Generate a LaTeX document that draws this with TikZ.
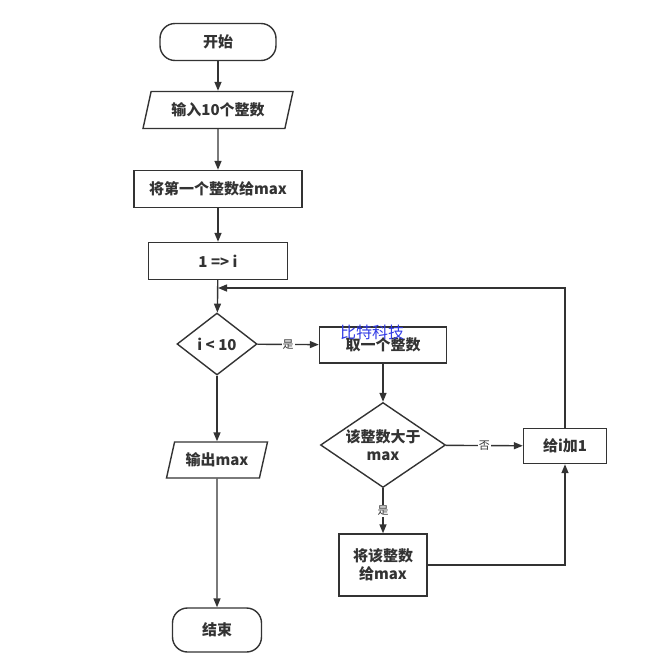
\documentclass[tikz,border=0pt]{standalone}
\usepackage{fontspec}
\setmainfont{Noto Sans CJK SC}
\usetikzlibrary{shapes.geometric,arrows.meta,calc}

\definecolor{linegray}{RGB}{51,51,51}
\definecolor{markblue}{RGB}{50,60,230}

\begin{document}
\begin{tikzpicture}[x=1pt,y=-1pt,
  line width=1.4pt, draw=linegray,
  every node/.style={text=linegray, font=\fontsize{15pt}{18pt}\selectfont\bfseries},
  terminal/.style={draw, rounded corners=15pt, minimum width=116pt, minimum height=37pt},
  iobox/.style={draw, trapezium, trapezium left angle=69, trapezium right angle=111,
    trapezium stretches body, inner xsep=2pt, minimum height=37pt},
  procbox/.style={draw, rectangle, minimum height=37pt},
  choice/.style={draw, diamond, inner sep=0pt},
  lbl/.style={fill=white, inner sep=1pt, font=\fontsize{11pt}{13pt}\selectfont},
  flow/.style={-{Triangle[length=9pt,width=7pt]}}]
\useasboundingbox (0,0) rectangle (658,667);

%main column
\node[terminal] (start) at (218,42) {开始};
\node[iobox, minimum width=150pt] (input) at (218,110) {输入10个整数};
\node[procbox, minimum width=168pt] (first) at (218,189) {将第一个整数给max};
\node[procbox, minimum width=139pt] (init) at (218,261) {1 => i};
\node[choice, minimum width=80pt, minimum height=62pt] (test) at (217,344) {i < 10};
\node[iobox, minimum width=101pt, minimum height=36pt] (output) at (217,460) {输出max};
\node[terminal, minimum width=89pt, minimum height=44pt] (stop) at (217,630) {结束};

%loop body
\node[procbox, minimum width=127pt, minimum height=36pt] (take) at (383,345) {取一个整数};
\node[choice, shape aspect=1.47, minimum width=125pt, minimum height=85pt, align=center] (cmp) at (383,445) {该整数大于\\max};
\node[procbox, minimum width=83pt, minimum height=35pt] (inc) at (565,446) {给i加1};
\node[procbox, minimum width=88pt, minimum height=62pt, align=center] (assign) at (383,565) {将该整数\\给max};
\coordinate (back) at (218,288);

%watermark
\node[text=markblue, font=\fontsize{16pt}{18pt}\selectfont\mdseries] (mark) at (372,332) {比特科技};

\draw[flow] (start) -- (input);
\draw[flow] (input) -- (first);
\draw[flow] (first) -- (init);
\draw[flow] (init) -- (test);
\draw[flow] (test) -- node[lbl] {是} (take);
\draw[flow] (take) -- (cmp);
\draw[flow] (cmp) -- node[lbl] {否} (inc);
\draw[flow] (cmp) -- node[lbl] {是} (assign);
\draw[flow] (assign.east) -| (inc.south);
\draw[flow] (inc.north) |- (back);
\draw[flow] (test) -- (output);
\draw[flow] (output) -- (stop);

\end{tikzpicture}
\end{document}
